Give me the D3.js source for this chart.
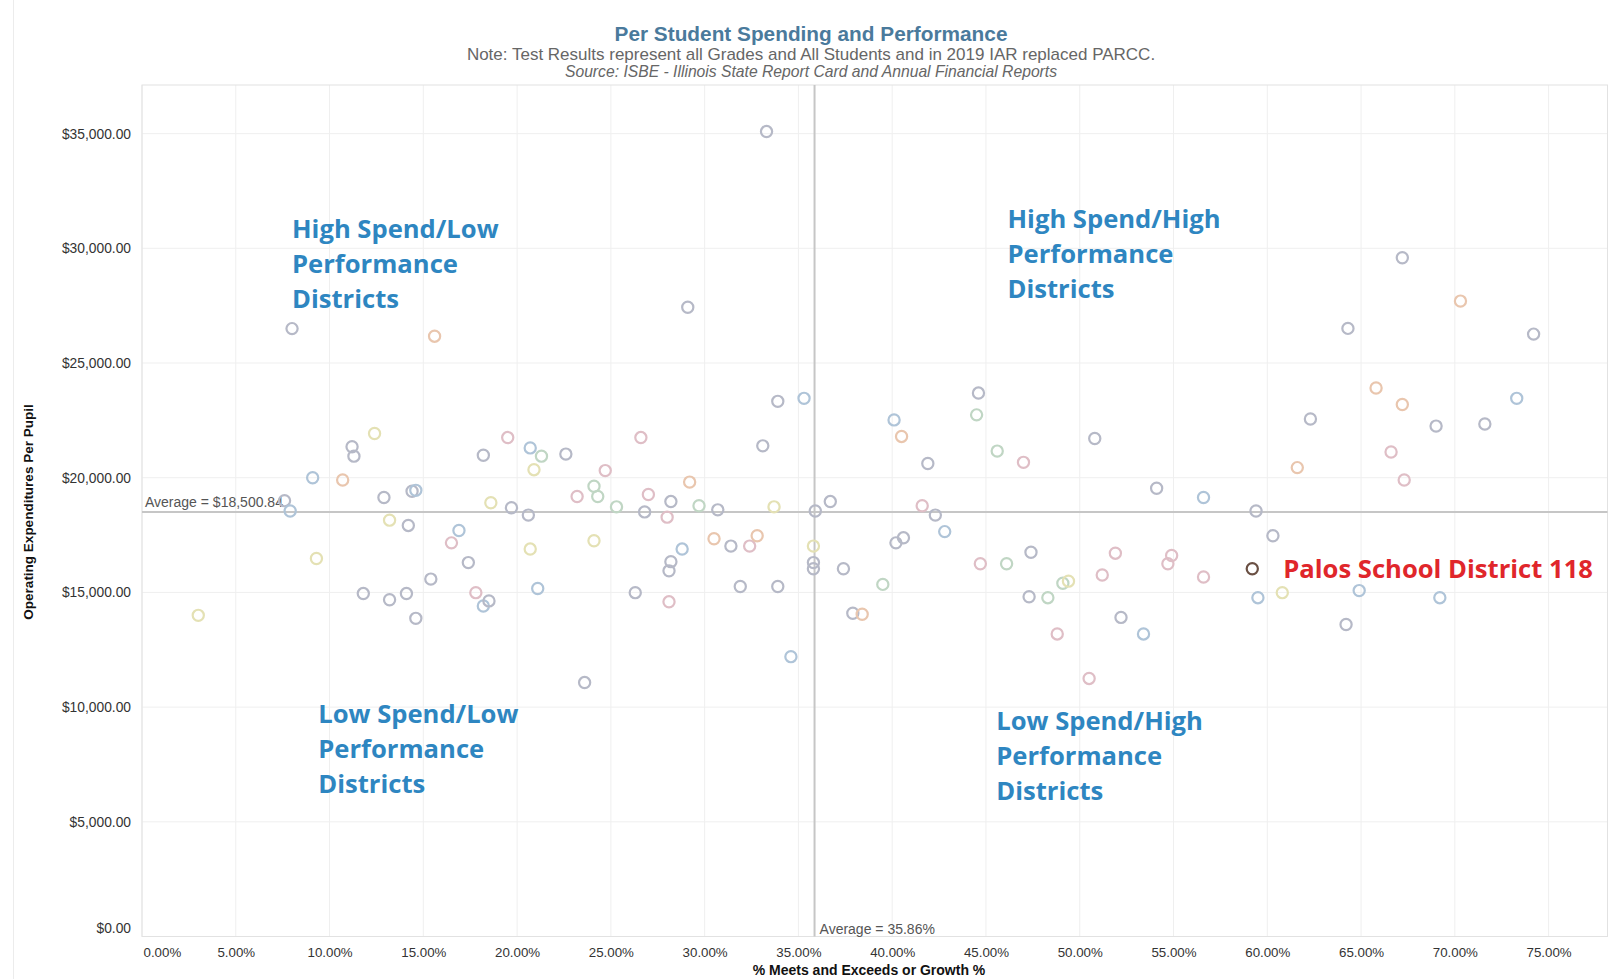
<!DOCTYPE html>
<html>
<head>
<meta charset="utf-8">
<script src="https://cdn.jsdelivr.net/npm/d3@7"></script>
<style>
  body { margin: 0; background: #fff; }
  svg { display: block; font-family: "Liberation Sans", Arial, sans-serif; }
</style>
</head>
<body>
<div id="chart"></div>
<script>
// % Meets and Exceeds or Growth % (x) and Operating Expenditures Per Pupil (y), one per district
var pctMeets = [3.0, 7.6, 7.9, 8.0, 9.1, 9.3, 10.7, 11.2, 11.3, 12.4, 11.8, 12.9, 13.2, 13.2, 14.2, 14.1, 14.4, 14.6, 14.6, 15.4,
  15.6, 16.5, 16.9, 17.4, 17.8, 18.2, 18.5, 18.2, 18.6, 19.5, 19.7, 20.6, 20.7, 21.3, 20.9, 20.7, 21.1, 22.6, 23.2, 23.6,
  24.1, 24.3, 24.7, 24.1, 25.3, 26.3, 26.6, 26.8, 27.0, 28.0, 28.2, 28.1, 28.2, 28.1, 28.8, 29.1, 29.2, 29.7, 30.5, 30.7,
  31.4, 31.9, 32.4, 32.8, 33.1, 33.3, 33.7, 33.9, 33.9, 34.6, 35.3, 35.8, 35.8, 35.8, 35.9, 36.7, 37.4, 37.9, 38.4, 39.5,
  40.1, 40.5, 40.2, 40.6, 41.6, 41.9, 42.3, 42.8, 44.5, 44.6, 44.7, 45.6, 46.1, 47.0, 47.3, 47.4, 48.3, 48.8, 49.1, 49.4,
  50.5, 50.8, 51.2, 51.9, 52.2, 53.4, 54.1, 54.7, 54.9, 56.6, 56.6, 59.4, 59.5, 60.3, 60.8, 61.6, 62.3, 64.2, 64.3, 64.9,
  65.8, 66.6, 67.2, 67.2, 67.3, 69.0, 69.2, 70.3, 71.6, 73.3, 74.2];
var spendPerPupil = [14000, 19000, 18550, 26500, 20000, 16480, 19900, 21350, 20940, 21930, 14950, 19140, 18150, 14680, 17920, 14950, 19410, 19450, 13870, 15580,
  26170, 17160, 17700, 16300, 14990, 14410, 14630, 20980, 18910, 21750, 18690, 18370, 21300, 20940, 20350, 16890, 15170, 21030, 19180, 11070,
  19630, 19180, 20310, 17250, 18730, 14990, 21750, 18510, 19270, 18280, 18960, 14590, 16340, 15940, 16890, 27430, 19810, 18780, 17340, 18600,
  17020, 15260, 17020, 17470, 21390, 35090, 18730, 15260, 23330, 12200, 23460, 17020, 16300, 16030, 18550, 18960, 16030, 14090, 14050, 15350,
  22520, 21800, 17160, 17380, 18780, 20620, 18370, 17650, 22740, 23690, 16250, 21160, 16250, 20670, 14810, 16750, 14770, 13190, 15400, 15490,
  11250, 21710, 15760, 16710, 13910, 13190, 19540, 16250, 16610, 15670, 19140, 18550, 14770, 17470, 14990, 20440, 22560, 13600, 26510, 15080,
  23910, 21120, 29590, 23190, 19900, 22250, 14770, 27700, 22340, 23460, 26260];
// colour group of each district mark (g grey, b blue, o orange, p pink, y yellow, n green)
var colorGroup = ["y", "g", "b", "g", "b", "y", "o", "g", "g", "y", "g", "g", "y", "g", "g", "g", "g", "b", "g", "g",
  "o", "p", "b", "g", "p", "b", "g", "g", "y", "p", "g", "g", "b", "n", "y", "y", "b", "g", "p", "g",
  "n", "n", "p", "y", "n", "g", "p", "g", "p", "p", "g", "p", "g", "g", "b", "g", "o", "n", "o", "g",
  "g", "g", "p", "o", "g", "g", "y", "g", "g", "b", "b", "y", "g", "g", "g", "g", "g", "g", "o", "n",
  "b", "o", "g", "g", "p", "g", "g", "b", "n", "g", "p", "n", "n", "p", "g", "g", "n", "p", "n", "y",
  "p", "g", "p", "p", "g", "b", "g", "p", "p", "p", "b", "g", "b", "g", "y", "o", "g", "g", "g", "b",
  "o", "p", "g", "o", "p", "g", "b", "o", "g", "b", "g"];

var highlightName = "Palos School District 118";
var highlightPct = 59.2;
var highlightSpend = 16030;

var avgPct = 35.86;
var avgSpend = 18500.84;

var xTicks = [0, 5, 10, 15, 20, 25, 30, 35, 40, 45, 50, 55, 60, 65, 70, 75];
var yTicks = [0, 5000, 10000, 15000, 20000, 25000, 30000, 35000];

var quadrants = [
  {lines: ["High Spend/Low", "Performance", "Districts"], px: 8.0, sp: 30860},
  {lines: ["High Spend/High", "Performance", "Districts"], px: 46.15, sp: 31280},
  {lines: ["Low Spend/Low", "Performance", "Districts"], px: 9.4, sp: 9710},
  {lines: ["Low Spend/High", "Performance", "Districts"], px: 45.55, sp: 9390}
];

var groupColors = {g: "#b6b9c7", b: "#afc4d8", o: "#e9c6ae", p: "#dfbec6", y: "#e4e1b4", n: "#c0d6c4"};

var width = 1622, height = 979;
var svg = d3.select("#chart").append("svg")
  .attr("width", width)
  .attr("height", height);

var xScale = d3.scaleLinear().domain([0, 78.14]).range([142, 1607.5]);
var yScale = d3.scaleLinear().domain([0, 37120]).range([936.5, 85]);

// outer border line on the left
svg.append("line")
  .attr("x1", 13.5).attr("y1", 0).attr("x2", 13.5).attr("y2", height)
  .attr("stroke", "#ececec");

// gridlines
svg.append("g").selectAll("line")
  .data(xTicks)
  .enter().append("line")
  .attr("x1", function(d) { return xScale(d); })
  .attr("x2", function(d) { return xScale(d); })
  .attr("y1", 85).attr("y2", 936.5)
  .attr("stroke", "#efefef");
svg.append("g").selectAll("line")
  .data(yTicks)
  .enter().append("line")
  .attr("x1", 142).attr("x2", 1607.5)
  .attr("y1", function(d) { return yScale(d); })
  .attr("y2", function(d) { return yScale(d); })
  .attr("stroke", "#efefef");

// plot frame
svg.append("rect")
  .attr("x", 142).attr("y", 85)
  .attr("width", 1607.5 - 142).attr("height", 936.5 - 85)
  .attr("fill", "none")
  .attr("stroke", "#e2e2e2");

// axes
var yAxis = d3.axisLeft(yScale)
  .tickValues(yTicks)
  .tickSize(0)
  .tickPadding(11)
  .tickFormat(function(d) { return "$" + d3.format(",.2f")(d); });
var gy = svg.append("g").attr("transform", "translate(142,0)").call(yAxis);
gy.select(".domain").remove();
gy.selectAll("text")
  .attr("font-family", "Liberation Sans, Arial, sans-serif")
  .attr("font-size", 13.8)
  .attr("fill", "#333");
gy.selectAll(".tick").filter(function(d) { return d === 0; }).select("text").attr("dy", "-0.3em");

var xAxis = d3.axisBottom(xScale)
  .tickValues(xTicks)
  .tickSize(0)
  .tickPadding(11)
  .tickFormat(function(d) { return d3.format(".2f")(d) + "%"; });
var gx = svg.append("g").attr("transform", "translate(0,936.5)").call(xAxis);
gx.select(".domain").remove();
gx.selectAll("text")
  .attr("font-family", "Liberation Sans, Arial, sans-serif")
  .attr("font-size", 13.3)
  .attr("fill", "#333");
gx.selectAll(".tick").filter(function(d) { return d === 0; }).select("text")
  .attr("text-anchor", "start").attr("x", 1);

// axis titles
svg.append("text")
  .text("% Meets and Exceeds or Growth %")
  .attr("x", 869).attr("y", 975)
  .attr("text-anchor", "middle")
  .attr("font-size", 14).attr("font-weight", "bold").attr("fill", "#111");
svg.append("text")
  .text("Operating Expenditures Per Pupil")
  .attr("transform", "translate(33,512) rotate(-90)")
  .attr("text-anchor", "middle")
  .attr("font-size", 13.5).attr("font-weight", "bold").attr("fill", "#111");

// reference lines
svg.append("line")
  .attr("x1", 142).attr("x2", 1607.5)
  .attr("y1", yScale(avgSpend)).attr("y2", yScale(avgSpend))
  .attr("stroke", "#c6c6c6").attr("stroke-width", 2);
svg.append("line")
  .attr("x1", xScale(avgPct)).attr("x2", xScale(avgPct))
  .attr("y1", 85).attr("y2", 936.5)
  .attr("stroke", "#c6c6c6").attr("stroke-width", 2);
svg.append("text")
  .text("Average = $" + d3.format(",.2f")(avgSpend))
  .attr("x", 145).attr("y", yScale(avgSpend) - 5)
  .attr("font-size", 14).attr("fill", "#555");
svg.append("text")
  .text("Average = " + avgPct.toFixed(2) + "%")
  .attr("x", xScale(avgPct) + 5).attr("y", 934)
  .attr("font-size", 14).attr("fill", "#555");

// titles
svg.append("text")
  .text("Per Student Spending and Performance")
  .attr("x", 811).attr("y", 41)
  .attr("text-anchor", "middle")
  .attr("font-size", 20.8).attr("font-weight", "bold").attr("fill", "#4a7a9c");
svg.append("text")
  .text("Note: Test Results represent all Grades and All Students and in 2019 IAR replaced PARCC.")
  .attr("x", 811).attr("y", 60)
  .attr("text-anchor", "middle")
  .attr("font-size", 17).attr("fill", "#666");
svg.append("text")
  .text("Source: ISBE - Illinois State Report Card and Annual Financial Reports")
  .attr("x", 811).attr("y", 77)
  .attr("text-anchor", "middle")
  .attr("font-size", 15.7).attr("font-style", "italic").attr("fill", "#666");

// district marks
var points = pctMeets.map(function(p, i) {
  return {pct: p, spend: spendPerPupil[i], group: colorGroup[i]};
});
svg.append("g").selectAll("circle")
  .data(points)
  .enter().append("circle")
  .attr("cx", function(d) { return xScale(d.pct); })
  .attr("cy", function(d) { return yScale(d.spend); })
  .attr("r", 5.6)
  .attr("fill", "none")
  .attr("stroke", function(d) { return groupColors[d.group]; })
  .attr("stroke-width", 2.2);

// highlighted district
svg.append("circle")
  .attr("cx", xScale(highlightPct))
  .attr("cy", yScale(highlightSpend))
  .attr("r", 5.6)
  .attr("fill", "none")
  .attr("stroke", "#6a5044")
  .attr("stroke-width", 2.2);
svg.append("text")
  .text(highlightName)
  .attr("x", xScale(highlightPct) + 31)
  .attr("y", yScale(highlightSpend) + 9)
  .attr("font-family", "Open Sans, sans-serif")
  .attr("font-size", 25.6).attr("font-weight", "bold").attr("fill", "#e0262b");

// quadrant labels
quadrants.forEach(function(q) {
  var t = svg.append("text")
    .attr("x", xScale(q.px))
    .attr("y", yScale(q.sp) + 9)
    .attr("font-family", "Open Sans, sans-serif")
    .attr("font-size", 25.6).attr("font-weight", "bold").attr("fill", "#2e86c1");
  q.lines.forEach(function(l, i) {
    t.append("tspan").text(l).attr("x", xScale(q.px)).attr("dy", i === 0 ? 0 : 35);
  });
});
</script>
</body>
</html>
